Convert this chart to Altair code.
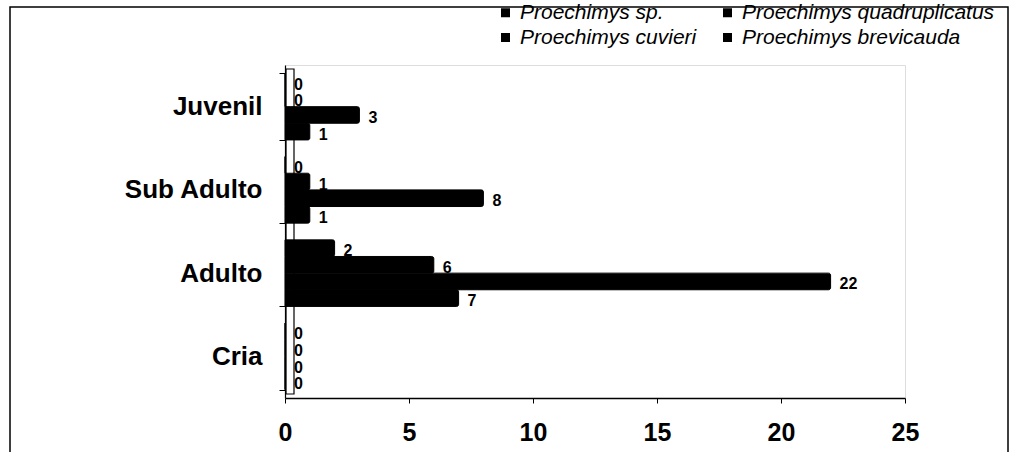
import altair as alt
import pandas as pd

categories = ["Juvenil", "Sub Adulto", "Adulto", "Cria"]
series = ["Proechimys sp.", "Proechimys quadruplicatus", "Proechimys cuvieri", "Proechimys brevicauda"]
values = {
    "Proechimys sp.": [0, 0, 2, 0],
    "Proechimys quadruplicatus": [0, 1, 6, 0],
    "Proechimys cuvieri": [3, 8, 22, 0],
    "Proechimys brevicauda": [1, 1, 7, 0],
}
x_ticks = [0, 5, 10, 15, 20, 25]

rows = []
for s in series:
    for c, v in zip(categories, values[s]):
        rows.append({"Etapa": c, "Especie": s, "Valor": v})
df = pd.DataFrame(rows)

FONT = "Liberation Sans"
W, H = 620, 333
PL, PT = 285, 65

y_enc = alt.Y("Etapa:N", sort=categories,
              scale=alt.Scale(paddingInner=0.2, paddingOuter=0.1),
              axis=alt.Axis(title=None, labelFont=FONT, labelFontSize=26, labelFontWeight="bold",
                            labelColor="black", domainColor="black", tickColor="black",
                            tickBand="extent", tickSize=6, labelPadding=17, domainWidth=1.2))
x_enc = alt.X("Valor:Q", scale=alt.Scale(domain=[0, 25], nice=False),
              axis=alt.Axis(title=None, values=x_ticks, labelFont=FONT, labelFontSize=25,
                            labelFontWeight="bold", labelColor="black", domainColor="black",
                            tickColor="black", tickSize=5, labelPadding=17, grid=False,
                            labelFlush=False, domainWidth=1.5))
yoff = alt.YOffset("Especie:N", sort=series, scale=alt.Scale(paddingInner=0, paddingOuter=0))

base = alt.Chart(df)

bars = base.mark_bar(color="black", stroke="black", strokeWidth=1, cornerRadiusEnd=2).encode(
    y=y_enc, x=x_enc, yOffset=yoff,
    color=alt.Color("Especie:N", sort=series,
                    scale=alt.Scale(domain=series, range=["black"] * 4),
                    legend=alt.Legend(title=None, orient="none", legendX=210, legendY=-63,
                                      columns=2, direction="horizontal", columnPadding=20,
                                      rowPadding=3, symbolType="square", symbolSize=81,
                                      symbolFillColor="black", symbolStrokeWidth=0,
                                      labelFont=FONT, labelFontSize=21, labelFontStyle="italic",
                                      labelColor="black", labelLimit=400, labelOffset=4)),
)

labels = base.mark_text(align="left", baseline="middle", dx=9, dy=3, font=FONT,
                        fontSize=16, fontWeight="bold", color="black").encode(
    y=alt.Y("Etapa:N", sort=categories), x="Valor:Q", yOffset=yoff, text="Valor:Q"
)

wall = alt.Chart(pd.DataFrame({"a": [0]})).mark_rect(fill=None, stroke="black", strokeWidth=1.2).encode(
    x=alt.value(1), x2=alt.value(9), y=alt.value(4), y2=alt.value(H - 4)
)

frame = alt.Chart(pd.DataFrame({"a": [0]})).mark_rect(fill=None, stroke="black", strokeWidth=1.5).encode(
    x=alt.value(10 - PL), x2=alt.value(1008 - PL), y=alt.value(7 - PT), y2=alt.value(470 - PT)
)

chart = alt.layer(frame, wall, bars, labels).properties(
    width=W, height=H,
    autosize=alt.AutoSizeParams(type="none"),
    padding={"left": PL, "top": PT, "right": 1011 - PL - W, "bottom": 452 - PT - H},
).configure_view(stroke=None).configure(background="white")

chart.save("out.html", embed_options={"renderer": "svg", "actions": False})
